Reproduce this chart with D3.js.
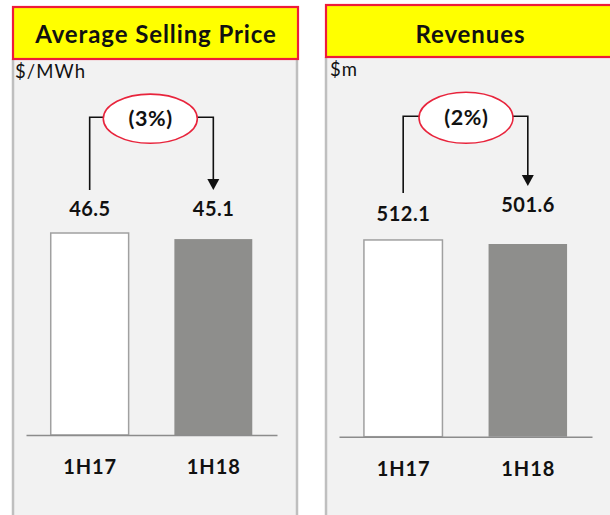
<!DOCTYPE html>
<html>
<head>
<meta charset="utf-8">
<script src="https://cdn.jsdelivr.net/npm/d3@7"></script>
<style>
  html, body { margin: 0; padding: 0; background: #ffffff; }
  svg { display: block; }
  text { font-family: Lato, "Open Sans", "DejaVu Sans", sans-serif; fill: #111; }
</style>
</head>
<body>
<svg id="chart" width="610" height="515"></svg>
<script>
// Half-year periods compared in both panels
const categories = ["1H17", "1H18"];
// Average selling price, $/MWh
const aspValues = [46.5, 45.1];
// Revenues, $m
const revenueValues = [512.1, 501.6];
// Period-on-period change labels
const aspChange = "(3%)";
const revenueChange = "(2%)";
// Panel titles and units
const titles = ["Average Selling Price", "Revenues"];
const units = ["$/MWh", "$m"];

const svg = d3.select("#chart");

// Layout of each panel
const panels = [
  {
    title: titles[0], unit: units[0], values: aspValues, change: aspChange,
    box: { x0: 13, x1: 298, titleTop: 7, titleBottom: 59 },
    titleX: 155.5,
    unitPos: [15, 78.3],
    plot: { x0: 26, x1: 277, base: 435 },
    yMax: 50, yTopPx: 217.8,
    labelY: [215.5, 215.5],
    catY: 474,
    ellipse: { cx: 150.3, cy: 118.7, rx: 47, ry: 24.6 },
    arrowTip: 190, arrowStart: 190
  },
  {
    title: titles[1], unit: units[1], values: revenueValues, change: revenueChange,
    box: { x0: 326, x1: 640, titleTop: 5, titleBottom: 57 },
    titleX: 470,
    unitPos: [330, 75.5],
    plot: { x0: 339, x1: 592, base: 436.7 },
    yMax: 550, yTopPx: 225.4,
    labelY: [221, 212],
    catY: 475.7,
    ellipse: { cx: 466, cy: 117.8, rx: 47, ry: 25.5 },
    arrowTip: 186, arrowStart: 193
  }
];

// Text with spacing; shift by half the trailing spacing so centred text stays centred
function spaced(sel, ls, centred) {
  sel.attr("letter-spacing", ls);
  if (centred) sel.attr("dx", ls / 2);
  return sel;
}

panels.forEach((p, i) => {
  const g = svg.append("g").attr("class", "panel-" + i);

  // Panel background with side borders
  g.append("rect")
    .attr("x", p.box.x0).attr("y", p.box.titleBottom)
    .attr("width", p.box.x1 - p.box.x0).attr("height", 515 - p.box.titleBottom)
    .attr("fill", "#f2f2f2");
  [p.box.x0, p.box.x1 - 1].forEach(x => {
    if (x < 610) {
      g.append("line")
        .attr("x1", x).attr("x2", x)
        .attr("y1", p.box.titleBottom).attr("y2", 515)
        .attr("stroke", "#bfbfbf").attr("stroke-width", 2.5);
    }
  });

  // Title banner
  g.append("rect")
    .attr("x", p.box.x0).attr("y", p.box.titleTop)
    .attr("width", p.box.x1 - p.box.x0).attr("height", p.box.titleBottom - p.box.titleTop)
    .attr("fill", "#ffff00").attr("stroke", "#ee1c3a").attr("stroke-width", 2.2);
  spaced(g.append("text")
    .attr("x", p.titleX)
    .attr("y", 43.3)
    .attr("text-anchor", "middle")
    .attr("font-weight", 700)
    .attr("font-size", 24)
    .text(p.title), 0.9, true);

  // Unit label
  spaced(g.append("text")
    .attr("x", p.unitPos[0]).attr("y", p.unitPos[1])
    .attr("font-size", 18.5)
    .attr("fill", "#222")
    .text(p.unit), 1.1, false);

  // Scales
  const x = d3.scaleBand()
    .domain(categories)
    .range([p.plot.x0, p.plot.x1])
    .paddingInner(0.37)
    .paddingOuter(0.2);
  const y = d3.scaleLinear()
    .domain([0, p.yMax])
    .range([p.plot.base, p.yTopPx]);

  // Bars
  g.selectAll("rect.bar")
    .data(p.values)
    .join("rect")
    .attr("class", "bar")
    .attr("x", (d, k) => x(categories[k]))
    .attr("y", d => y(d))
    .attr("width", x.bandwidth())
    .attr("height", d => y(0) - y(d))
    .attr("fill", (d, k) => k === 0 ? "#ffffff" : "#8e8e8c")
    .attr("stroke", (d, k) => k === 0 ? "#a0a0a0" : "none")
    .attr("stroke-width", 1.5);

  // Category axis (baseline + labels)
  const axis = d3.axisBottom(x).tickSize(0).tickPadding(0);
  const ax = g.append("g")
    .attr("transform", `translate(0,${p.plot.base})`)
    .call(axis);
  ax.select(".domain").attr("stroke", "#8c8c8c").attr("stroke-width", 1.6);
  ax.selectAll(".tick text")
    .attr("dy", null)
    .attr("y", p.catY - p.plot.base)
    .attr("font-size", 20)
    .attr("font-weight", 700)
    .attr("font-family", "Lato, 'Open Sans', sans-serif")
    .attr("fill", "#111")
    .attr("letter-spacing", 0.9)
    .attr("dx", 0.45);

  // Value labels
  spaced(g.selectAll("text.val")
    .data(p.values)
    .join("text")
    .attr("class", "val")
    .attr("x", (d, k) => x(categories[k]) + x.bandwidth() / 2)
    .attr("y", (d, k) => p.labelY[k])
    .attr("text-anchor", "middle")
    .attr("font-size", 20)
    .attr("font-weight", 700)
    .text(d => d.toFixed(1)), 0.5, true);

  // Change connector: from first bar up, across the ellipse, down to second bar
  const cx1 = x(categories[0]) + x.bandwidth() / 2;
  const cx2 = x(categories[1]) + x.bandwidth() / 2;
  const e = p.ellipse;
  const arrowHead = 11;
  g.append("path")
    .attr("d", `M${cx1},${p.arrowStart} V${e.cy - 1.5} H${e.cx - e.rx}`)
    .attr("fill", "none").attr("stroke", "#111").attr("stroke-width", 1.6);
  g.append("path")
    .attr("d", `M${e.cx + e.rx},${e.cy - 1.5} H${cx2} V${p.arrowTip - arrowHead}`)
    .attr("fill", "none").attr("stroke", "#111").attr("stroke-width", 1.6);
  g.append("path")
    .attr("d", `M${cx2 - 6},${p.arrowTip - arrowHead} L${cx2 + 6},${p.arrowTip - arrowHead} L${cx2},${p.arrowTip} Z`)
    .attr("fill", "#111");
  g.append("ellipse")
    .attr("cx", e.cx).attr("cy", e.cy).attr("rx", e.rx).attr("ry", e.ry)
    .attr("fill", "#ffffff").attr("stroke", "#e8243c").attr("stroke-width", 1.6);
  spaced(g.append("text")
    .attr("x", e.cx).attr("y", e.cy + 7.5)
    .attr("text-anchor", "middle")
    .attr("font-size", 21.5)
    .attr("font-weight", 700)
    .text(p.change), 0.6, true);
});
</script>
</body>
</html>
